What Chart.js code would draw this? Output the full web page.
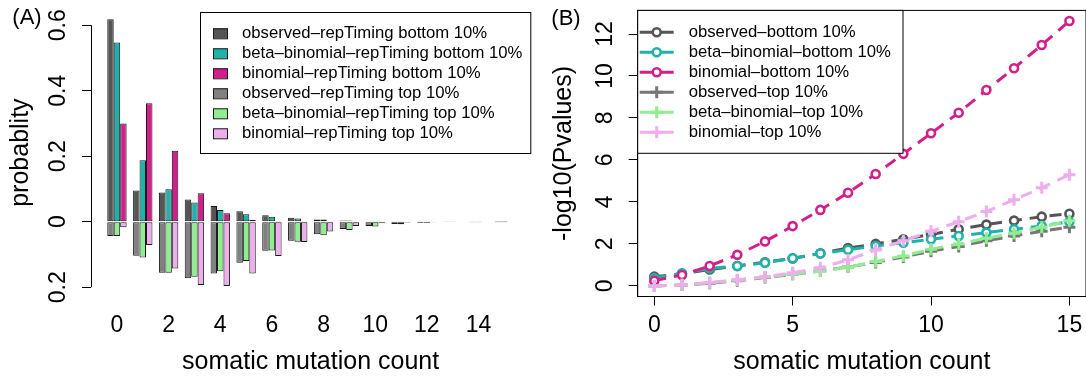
<!DOCTYPE html>
<html>
<head>
<meta charset="utf-8">
<script src="https://cdn.jsdelivr.net/npm/chart.js@4/dist/chart.umd.min.js"></script>
<style>
html,body{margin:0;padding:0;background:#fff;}
#contenedor{position:relative;width:1086px;height:379px;overflow:hidden;}
.panel{position:absolute;top:0;width:543px;height:379px;}
</style>
</head>
<body>
<div id="contenedor">
	<div class="panel" style="left:0"><canvas id="canva_a" width="543" height="379"></canvas></div>
	<div class="panel" style="left:543px"><canvas id="canva_b" width="543" height="379"></canvas></div>
</div>
<script>
// ---- datos panel A (probabilidad por conteo de mutaciones) ----
const conteos = [0,1,2,3,4,5,6,7,8,9,10,11,12,13,14,15];
const obs_bottom   = [0.618,0.095,0.089,0.068,0.048,0.032,0.020,0.012,0.007,0.004,0.002,0.001,0.001,0.0005,0.0003,0.0002];
const beta_bottom  = [0.547,0.188,0.099,0.059,0.036,0.023,0.015,0.010,0.007,0.004,0.002,0.001,0.001,0.0005,0.0003,0.0002];
const binom_bottom = [0.300,0.362,0.217,0.087,0.026,0.005,0.001,0.0003,0,0,0,0,0,0,0,0];
const obs_top      = [0.044,0.104,0.156,0.173,0.158,0.125,0.089,0.058,0.038,0.022,0.013,0.007,0.004,0.002,0.001,0.001];
const beta_top     = [0.044,0.109,0.156,0.168,0.151,0.120,0.088,0.061,0.041,0.025,0.015,0.008,0.004,0.002,0.001,0.001];
const binom_top    = [0.017,0.071,0.143,0.193,0.196,0.158,0.105,0.062,0.030,0.013,0.005,0.003,0.001,0,0,0];
const etiquetas_x_a = [0,2,4,6,8,10,12,14];
const etiquetas_y_a = [-0.2,0,0.2,0.4,0.6];

// ---- datos panel B (-log10 pvalues) ----
const pv_obs_bottom   = [0.44,0.58,0.78,0.95,1.13,1.31,1.55,1.80,2.00,2.22,2.45,2.70,2.92,3.11,3.30,3.44];
const pv_beta_bottom  = [0.37,0.60,0.84,0.95,1.10,1.32,1.54,1.72,1.90,2.06,2.22,2.38,2.54,2.70,2.86,3.06];
const pv_binom_bottom = [0.25,0.52,0.95,1.48,2.12,2.85,3.62,4.44,5.33,6.29,7.27,8.25,9.33,10.37,11.48,12.62];
const pv_obs_top      = [0.00,0.04,0.13,0.24,0.40,0.55,0.72,0.90,1.12,1.38,1.65,1.88,2.15,2.38,2.60,2.80];
const pv_beta_top     = [0.00,0.05,0.15,0.27,0.42,0.56,0.70,0.89,1.16,1.43,1.75,2.00,2.27,2.51,2.80,3.10];
const pv_binom_top    = [0.00,0.05,0.16,0.29,0.44,0.63,0.86,1.24,1.71,2.15,2.60,3.06,3.55,4.10,4.68,5.29];
const etiquetas_x_b = [0,5,10,15];
const etiquetas_y_b = [0,2,4,6,8,10,12];

const nombres_a = ['observed\u2013repTiming bottom 10%','beta\u2013binomial\u2013repTiming bottom 10%','binomial\u2013repTiming bottom 10%',
	'observed\u2013repTiming top 10%','beta\u2013binomial\u2013repTiming top 10%','binomial\u2013repTiming top 10%'];
const nombres_b = ['observed\u2013bottom 10%','beta\u2013binomial\u2013bottom 10%','binomial\u2013bottom 10%',
	'observed\u2013top 10%','beta\u2013binomial\u2013top 10%','binomial\u2013top 10%'];

const colores_a = ['#555555','#20b2aa','#d31f8c','#808080','#90ee90','#eeaeee'];
const colores_b = ['#555555','#20b2aa','#d31f8c','#777777','#90ee90','#eeaeee'];
const fuente = '"Liberation Sans", Arial, Helvetica, sans-serif';

Chart.defaults.font.family = fuente;

// los de top van hacia abajo (negativos)
let series_a = [obs_bottom, beta_bottom, binom_bottom, obs_top.map(v=>-v), beta_top.map(v=>-v), binom_top.map(v=>-v)];
let pilas = ['obs','beta','binom','obs','beta','binom'];

let datasets_a = series_a.map((serie,i)=>({
	label: nombres_a[i],
	data: conteos.map((c,j)=>({x:c, y:serie[j]})),
	backgroundColor: colores_a[i],
	borderColor: '#1a1a1a',
	borderWidth: 1,
	borderSkipped: false,
	stack: pilas[i],
	categoryPercentage: 0.75,
	barPercentage: 1
}));

let series_b = [pv_obs_bottom, pv_beta_bottom, pv_binom_bottom, pv_obs_top, pv_beta_top, pv_binom_top];
let marcas = ['circle','circle','circle','cross','cross','cross'];

let datasets_b = series_b.map((serie,i)=>({
	label: nombres_b[i],
	data: conteos.map((c,j)=>({x:c, y:serie[j]})),
	borderColor: colores_b[i],
	backgroundColor: colores_b[i],
	borderWidth: 3,
	borderDash: [12,8],
	tension: 0,
	pointStyle: marcas[i],
	pointRadius: marcas[i]=='circle' ? 4 : 6,
	pointBorderWidth: marcas[i]=='circle' ? 2.6 : 3,
	pointBackgroundColor: '#fff',
	pointBorderColor: colores_b[i],
	order: 6-i
}));

// texto rotado (como los ejes de R)
function texto_vertical(ctx, texto, x, y){
	ctx.save();
	ctx.translate(x, y);
	ctx.rotate(-Math.PI/2);
	ctx.fillText(texto, 0, 0);
	ctx.restore();
}

function marca(ctx, tipo, x, y, color){
	ctx.strokeStyle = color;
	ctx.fillStyle = '#fff';
	if(tipo == 'circle'){
		ctx.lineWidth = 2.6;
		ctx.beginPath(); ctx.arc(x, y, 4, 0, Math.PI*2); ctx.fill(); ctx.stroke();
	}else{
		ctx.lineWidth = 3;
		ctx.beginPath(); ctx.moveTo(x-6, y); ctx.lineTo(x+6, y); ctx.moveTo(x, y-6); ctx.lineTo(x, y+6); ctx.stroke();
	}
}

const extras_a = {
	id: 'extras_a',
	afterDraw(chart){
		const ctx = chart.ctx, area = chart.chartArea;
		const x = chart.scales.x, y = chart.scales.y;
		ctx.save();
		// linea del eje y solo entre los ticks
		ctx.strokeStyle = '#000'; ctx.lineWidth = 1;
		ctx.beginPath();
		ctx.moveTo(area.left+0.5, y.getPixelForValue(etiquetas_y_a[0]));
		ctx.lineTo(area.left+0.5, y.getPixelForValue(etiquetas_y_a[etiquetas_y_a.length-1]));
		ctx.stroke();

		ctx.fillStyle = '#000';
		ctx.textAlign = 'center'; ctx.textBaseline = 'middle';
		ctx.font = '23px ' + fuente;
		etiquetas_y_a.forEach(v=> texto_vertical(ctx, String(Math.abs(v)), area.left-32, y.getPixelForValue(v)));
		etiquetas_x_a.forEach(v=> ctx.fillText(String(v), x.getPixelForValue(v), 326));

		ctx.font = '25px ' + fuente;
		ctx.fillText('somatic mutation count', (area.left+area.right)/2, 362);
		texto_vertical(ctx, 'probablity', 21, (area.top+area.bottom)/2);
		ctx.font = '22px ' + fuente;
		ctx.fillText('(A)', 27, 18);

		// leyenda
		let izq = 200, arriba = 12, abajo = 153;
		ctx.strokeStyle = '#000'; ctx.lineWidth = 1;
		ctx.strokeRect(izq+0.5, arriba+0.5, area.right-izq, abajo-arriba);
		ctx.font = '16.7px ' + fuente;
		ctx.textAlign = 'left';
		chart.data.datasets.forEach((ds,i)=>{
			let yy = 33.3 + i*20;
			ctx.fillStyle = ds.backgroundColor;
			ctx.fillRect(213, yy-5, 15, 10);
			ctx.strokeStyle = '#1a1a1a';
			ctx.strokeRect(213.5, yy-4.5, 14, 10);
			ctx.fillStyle = '#000';
			ctx.fillText(ds.label, 242, yy);
		});
		ctx.restore();
	}
};

const extras_b = {
	id: 'extras_b',
	afterDraw(chart){
		const ctx = chart.ctx, area = chart.chartArea;
		const x = chart.scales.x, y = chart.scales.y;
		ctx.save();
		ctx.strokeStyle = '#000'; ctx.lineWidth = 1;
		ctx.strokeRect(area.left, area.top, area.right-area.left, area.bottom-area.top);

		ctx.fillStyle = '#000';
		ctx.textAlign = 'center'; ctx.textBaseline = 'middle';
		ctx.font = '23px ' + fuente;
		etiquetas_y_b.forEach(v=> texto_vertical(ctx, String(v), area.left-32, y.getPixelForValue(v)));
		etiquetas_x_b.forEach(v=> ctx.fillText(String(v), x.getPixelForValue(v), 326));

		ctx.font = '25px ' + fuente;
		ctx.fillText('somatic mutation count', (area.left+area.right)/2, 362);
		texto_vertical(ctx, '-log10(Pvalues)', 21, (area.top+area.bottom)/2);
		ctx.font = '22px ' + fuente;
		ctx.fillText('(B)', 23, 19);

		// leyenda
		let der = 360, abajo = 153.3;
		ctx.fillStyle = '#fff';
		ctx.fillRect(area.left, area.top, der-area.left, abajo-area.top);
		ctx.strokeStyle = '#000'; ctx.lineWidth = 1;
		ctx.strokeRect(area.left, area.top, der-area.left, abajo-area.top);
		ctx.font = '16.7px ' + fuente;
		ctx.textAlign = 'left';
		chart.data.datasets.forEach((ds,i)=>{
			let yy = 32.3 + i*20;
			ctx.strokeStyle = ds.borderColor; ctx.lineWidth = 3;
			ctx.beginPath(); ctx.moveTo(area.left+2, yy); ctx.lineTo(area.left+36, yy); ctx.stroke();
			marca(ctx, ds.pointStyle, area.left+19, yy, ds.borderColor);
			ctx.fillStyle = '#000';
			ctx.fillText(ds.label, area.left+51, yy);
		});
		ctx.restore();
	}
};

const grafico_a = new Chart(document.getElementById('canva_a'), {
	type: 'bar',
	data: { datasets: datasets_a },
	options: {
		responsive: false,
		animation: false,
		devicePixelRatio: 1,
		layout: { autoPadding: false, padding: { top: 8.5, right: 12.7, left: 0, bottom: 0 } },
		plugins: { legend: { display: false }, tooltip: { enabled: false } },
		scales: {
			x: {
				type: 'linear', min: -1.005, max: 16.005, offset: false,
				grid: { display: false }, border: { display: false },
				ticks: { display: false },
				afterFit: s=>{ s.height = 82.3; }
			},
			y: {
				type: 'linear', stacked: true, min: -0.229, max: 0.651,
				grid: { drawOnChartArea: false, tickLength: 9, color: '#000' },
				border: { display: false },
				ticks: { display: false },
				afterBuildTicks: s=>{ s.ticks = etiquetas_y_a.map(v=>({value:v})); },
				afterFit: s=>{ s.width = 91; }
			}
		}
	},
	plugins: [extras_a]
});

const grafico_b = new Chart(document.getElementById('canva_b'), {
	type: 'line',
	data: { datasets: datasets_b },
	options: {
		responsive: false,
		animation: false,
		devicePixelRatio: 1,
		layout: { autoPadding: false, padding: { top: 10.4, right: 0, left: 0, bottom: 0 } },
		plugins: { legend: { display: false }, tooltip: { enabled: false } },
		scales: {
			x: {
				type: 'linear', min: -0.6, max: 15.6,
				grid: { drawOnChartArea: false, tickLength: 9, color: '#000' },
				border: { display: true, color: '#000' },
				ticks: { display: false },
				afterBuildTicks: s=>{ s.ticks = etiquetas_x_b.map(v=>({value:v})); },
				afterFit: s=>{ s.height = 82.5; }
			},
			y: {
				type: 'linear', min: -0.505, max: 13.125,
				grid: { drawOnChartArea: false, tickLength: 9, color: '#000' },
				border: { display: true, color: '#000' },
				ticks: { display: false },
				afterBuildTicks: s=>{ s.ticks = etiquetas_y_b.map(v=>({value:v})); },
				afterFit: s=>{ s.width = 94.7; }
			}
		}
	},
	plugins: [extras_b]
});
</script>
</body>
</html>
